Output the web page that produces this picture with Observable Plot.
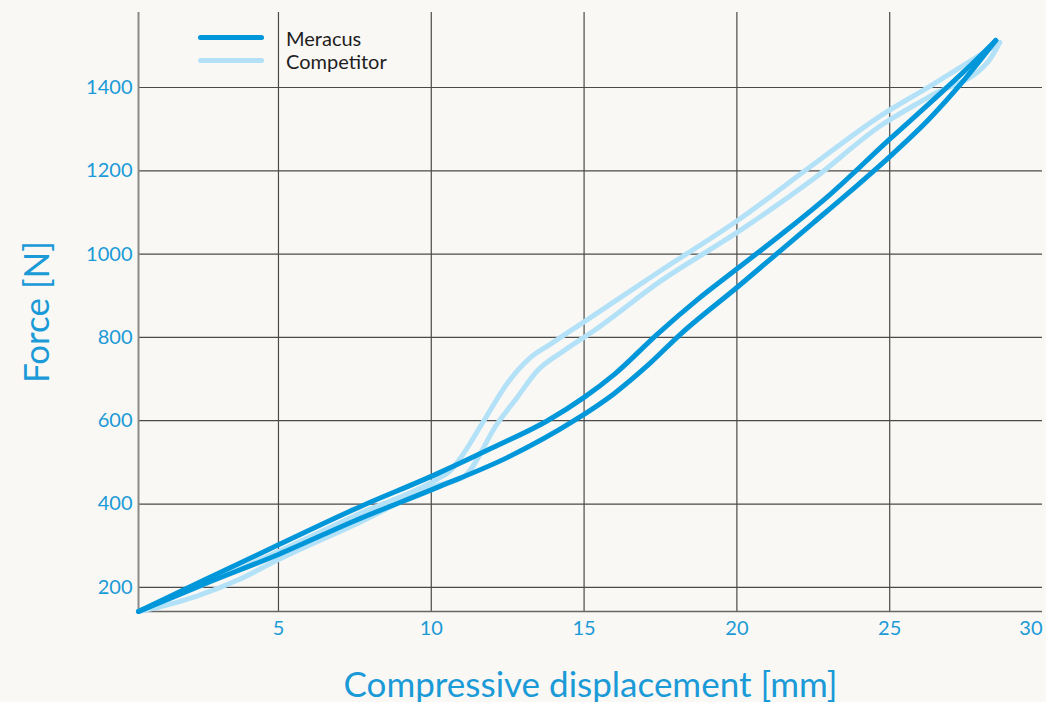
<!DOCTYPE html>
<html><head><meta charset="utf-8">
<script src="https://cdn.jsdelivr.net/npm/d3@7"></script>
<script src="https://cdn.jsdelivr.net/npm/@observablehq/plot@0.6"></script>
<style>
html,body{margin:0;padding:0;background:#f9f8f4;}
#wrap{position:relative;width:1046px;height:702px;font-family:Lato,sans-serif;}
#legend{position:absolute;left:198px;top:26px;font-size:20px;color:#1e1e1e;}
.item{display:flex;align-items:center;height:23px;}
.sw{width:66px;height:5px;border-radius:3px;margin-right:22px;}
</style></head><body><div id="wrap"><div id="legend"></div></div>
<script>
const series = ["Meracus", "Competitor"];
const colors = ["#0097da", "#b3e1f8"];
const xTitle = "Compressive displacement [mm]";
const yTitle = "Force [N]";
const xDomain = [0.42, 30];
const yDomain = [142, 1580];
const xTicks = [5, 10, 15, 20, 25];
const xLastTick = [30];
const yTicks = [200, 400, 600, 800, 1000, 1200, 1400];

// Meracus hysteresis loop
const meracusUpX = [0.42, 2.5, 5.0, 7.5, 10.2, 12.0, 13.8, 15.0, 16.0, 17.4, 18.7, 20.1, 21.5, 23.0, 25.0, 26.5, 27.8, 28.47];
const meracusUpF = [142, 215, 302, 388, 473, 535, 600, 656, 712, 808, 890, 970, 1050, 1140, 1276, 1375, 1464, 1513];
const meracusLowX = [0.42, 2.5, 5.0, 7.5, 10.2, 12.5, 14.67, 15.98, 17.07, 18.16, 20.07, 21.1, 22.5, 23.7, 25.03, 26.3, 27.32, 28.47];
const meracusLowF = [142, 206, 279, 360, 440, 512, 600, 665, 732, 808, 924, 988, 1075, 1150, 1236, 1325, 1408, 1513];

// Competitor hysteresis loop
const compUpX = [0.42, 2.5, 5.0, 7.5, 10.2, 10.6, 10.97, 11.72, 12.49, 13.25, 13.9, 14.89, 17.5, 20.07, 22.5, 24.7, 26.34, 27.65, 28.6];
const compUpF = [142, 205, 286, 372, 460, 478, 512, 600, 690, 752, 784, 832, 960, 1083, 1215, 1332, 1404, 1464, 1508];
const compLowX = [0.42, 1.07, 2.38, 3.69, 5.0, 7.6, 10.2, 11.07, 12.16, 12.81, 13.47, 14.34, 15.32, 17.5, 20.07, 22.5, 24.7, 26.34, 28.2, 28.6];
const compLowF = [142, 152, 180, 218, 267, 354, 445, 466, 593, 656, 720, 768, 816, 935, 1055, 1180, 1308, 1380, 1460, 1508];

const rows = [];
function add(name, branch, xs, fs) { xs.forEach((x, i) => rows.push({name, branch, x, f: fs[i]})); }
add("Competitor", "up", compUpX, compUpF);
add("Competitor", "low", compLowX, compLowF);
add("Meracus", "up", meracusUpX, meracusUpF);
add("Meracus", "low", meracusLowX, meracusLowF);

const blue = "#1b9ad8";
const plot = Plot.plot({
  width: 1046, height: 702,
  marginLeft: 138, marginRight: 4, marginTop: 12, marginBottom: 91,
  style: {background: "transparent", fontFamily: "Lato, sans-serif", color: blue, overflow: "visible"},
  x: {domain: xDomain},
  y: {domain: yDomain},
  color: {domain: series, range: colors},
  marks: [
    Plot.gridX({ticks: xTicks, stroke: "#4a4a4a", strokeOpacity: 1, strokeWidth: 1.2}),
    Plot.gridY({ticks: yTicks, stroke: "#4a4a4a", strokeOpacity: 1, strokeWidth: 1.2}),
    Plot.ruleX([xDomain[0]], {stroke: "#8a8a8a", strokeWidth: 2}),
    Plot.ruleY([yDomain[0]], {stroke: "#666", strokeWidth: 1.5}),
    Plot.axisX({ticks: xTicks, tickSize: 0, tickPadding: 9, fontSize: 20, label: null, fill: blue}),
    Plot.text(xLastTick, {x: d => d, frameAnchor: "bottom", textAnchor: "end", lineAnchor: "top", dy: 9, fontSize: 20, fill: blue}),
    Plot.axisY({ticks: yTicks, tickSize: 0, tickPadding: 6, fontSize: 20, label: null, fill: blue, tickFormat: d => String(d)}),
    Plot.text([xTitle], {frameAnchor: "bottom", textAnchor: "middle", lineAnchor: "middle", dy: 74, fontSize: 35, fill: blue}),
    Plot.text([yTitle], {frameAnchor: "left", textAnchor: "middle", lineAnchor: "middle", dx: -101, rotate: -90, fontSize: 35, fill: blue}),
    Plot.line(rows, {x: "x", y: "f", z: d => d.name + d.branch, stroke: "name", strokeWidth: 5,
      strokeLinecap: "round", strokeLinejoin: "round", curve: "monotone-x"})
  ]
});
document.getElementById("wrap").prepend(plot);
const legend = document.getElementById("legend");
series.forEach((s, i) => {
  const it = document.createElement("div");
  it.className = "item";
  it.innerHTML = `<div class="sw" style="background:${colors[i]}"></div><span>${s}</span>`;
  legend.appendChild(it);
});
</script></body></html>
